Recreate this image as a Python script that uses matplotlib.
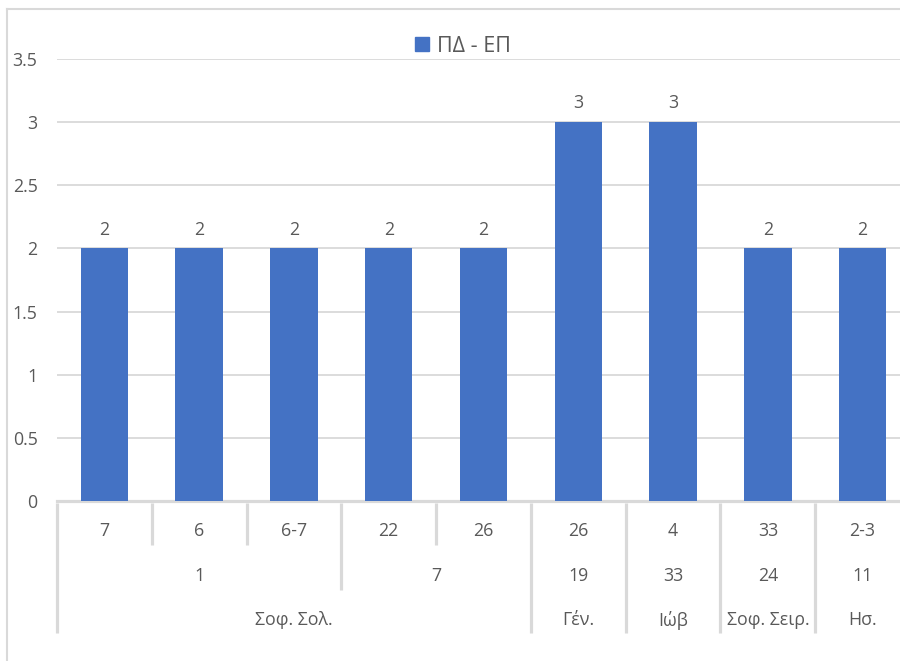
import matplotlib
matplotlib.use("Agg")
import matplotlib.pyplot as plt
from matplotlib.transforms import blended_transform_factory
from matplotlib.patches import Patch
from matplotlib.lines import Line2D

# ---- data ----
level1_labels = ['7', '6', '6-7', '22', '26', '26', '4', '33', '2-3']
level2_labels = ['1', '7', '19', '33', '24', '11']
level2_spans = [3, 2, 1, 1, 1, 1]
level3_labels = ['Σοφ. Σολ.', 'Γέν.', 'Ιώβ', 'Σοφ. Σειρ.', 'Ησ.']
level3_spans = [5, 1, 1, 1, 1]
values = [2, 2, 2, 2, 2, 3, 3, 2, 2]
series_name = 'ΠΔ - ΕΠ'
yticks = [0, 0.5, 1, 1.5, 2, 2.5, 3, 3.5]
ytick_labels = ['0', '0.5', '1', '1.5', '2', '2.5', '3', '3.5']

plt.rcParams['font.family'] = ['Open Sans', 'DejaVu Sans']
TXT = '#595959'
GRID = '#D9D9D9'
BAR = '#4472C4'
FS = 12.8

W, H = 900, 661
fig = plt.figure(figsize=(W / 100, H / 100), dpi=100)

def px(x0, y0, x1, y1):
    return [x0 / W, 1 - y1 / H, (x1 - x0) / W, (y1 - y0) / H]

ax = fig.add_axes(px(57, 59, 910, 501))
n = len(values)
x = list(range(n))
ax.bar(x, values, width=0.5, color=BAR, zorder=3)
ax.set_xlim(-0.5, n - 0.5)
ax.set_ylim(0, 3.5)
ax.set_yticks(yticks)
ax.set_yticklabels(ytick_labels)
ax.tick_params(axis='y', length=0, pad=14, labelsize=FS, labelcolor=TXT)
ax.set_xticks([])
ax.yaxis.grid(True, color=GRID, linewidth=1.3, zorder=0)
ax.set_axisbelow(True)
for s in ['top', 'right', 'left']:
    ax.spines[s].set_visible(False)
ax.spines['bottom'].set_color(GRID)
ax.spines['bottom'].set_linewidth(2.3)

for xi, v in zip(x, values):
    ax.annotate(str(v), (xi, v), xytext=(0, 7), textcoords='offset points',
                ha='center', va='bottom', fontsize=FS, color=TXT)

tr = blended_transform_factory(ax.transData, fig.transFigure)

def fy(py):
    return 1 - py / H

# level texts
y1, y2, y3 = 531, 576, 620
for i, lab in enumerate(level1_labels):
    fig.text(i, fy(y1), lab, transform=tr, ha='center', va='center', fontsize=FS, color=TXT)

def spans_to_bounds(spans):
    b = [0]
    for s in spans:
        b.append(b[-1] + s)
    return b

b2 = spans_to_bounds(level2_spans)
b3 = spans_to_bounds(level3_spans)
for i, lab in enumerate(level2_labels):
    c = (b2[i] + b2[i + 1]) / 2 - 0.5
    fig.text(c, fy(y2), lab, transform=tr, ha='center', va='center', fontsize=FS, color=TXT)
for i, lab in enumerate(level3_labels):
    c = (b3[i] + b3[i + 1]) / 2 - 0.5
    fig.text(c, fy(y3), lab, transform=tr, ha='center', va='center', fontsize=FS, color=TXT)

# separators
for bnd in range(n + 1):
    if bnd in b3:
        end = 633
    elif bnd in b2:
        end = 590
    else:
        end = 545
    xb = bnd - 0.5
    fig.add_artist(Line2D([xb, xb], [fy(503), fy(end)], transform=tr,
                          color=GRID, linewidth=2.3, solid_capstyle='butt'))

# chart border (top and left visible)
fig.add_artist(Line2D([7 / W, 7 / W], [0, fy(9)], color=GRID, linewidth=1.5))
fig.add_artist(Line2D([7 / W, 1], [fy(9), fy(9)], color=GRID, linewidth=1.5))

# legend
handle = Patch(facecolor=BAR, edgecolor=BAR)
fig.legend([handle], [series_name], loc='center', bbox_to_anchor=(463 / W, fy(46)),
           frameon=False, fontsize=15.5, handlelength=0.65, handleheight=0.65,
           handletextpad=0.4, labelcolor=TXT)

fig.savefig('out.png', dpi=100)
